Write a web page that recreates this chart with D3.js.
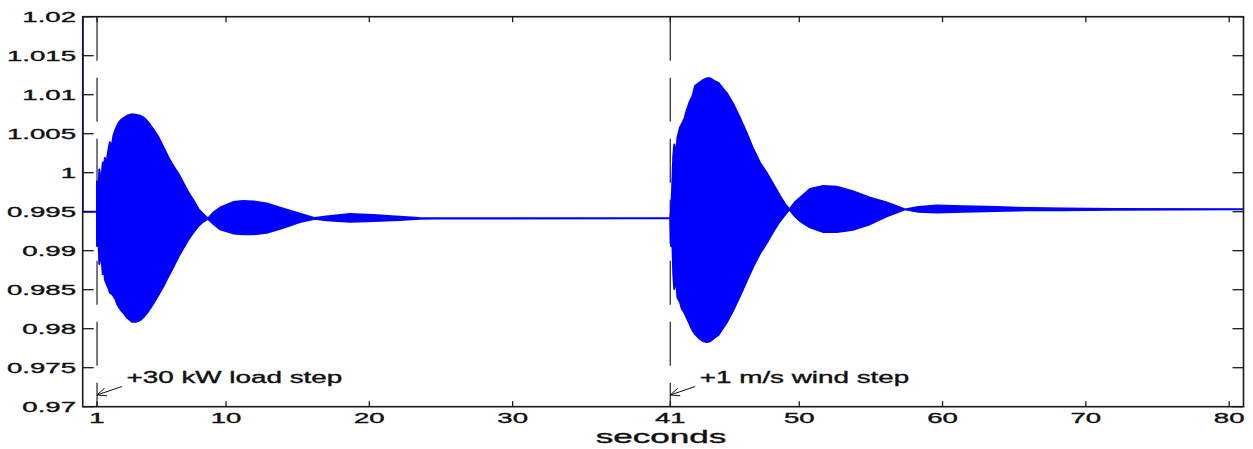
<!DOCTYPE html>
<html>
<head>
<meta charset="utf-8">
<script src="https://cdn.jsdelivr.net/npm/d3@7"></script>
<style>
  html, body { margin: 0; padding: 0; background: #fff; }
  svg { display: block; }
  text { font-family: "Liberation Sans", Arial, Helvetica, sans-serif; fill: #111; stroke: #111; stroke-width: 0.35px; }
</style>
</head>
<body>
<svg id="chart" width="1253" height="449"></svg>
<script>
// Rotor speed (pu) after a load step at t = 1 s and a wind step at t = 41 s.

// Initial settling segment, drawn as a plain line
const preTime  = [0, 0, 1];
const preValue = [1.02, 0.995, 0.995];

// Oscillation envelope after the +30 kW load step (upper / lower extremes)
const loadTime = [1.00, 1.08, 1.16, 1.28, 1.40, 1.48, 1.55, 1.65, 1.80, 1.90, 2.00, 2.15, 2.28, 2.40, 2.51, 2.70,
                  2.86, 3.10, 3.44, 3.75, 4.02, 4.30, 4.60, 4.95, 5.30, 5.65, 6.00, 6.35, 6.70, 7.05, 7.40, 7.75,
                  8.09, 8.40, 8.74, 9.10, 9.58, 10.5, 11.2, 11.9, 12.84, 14.0, 15.16, 16.2, 17.0, 18.65, 20.3,
                  22.1, 23.5, 24.5, 40.95];
const loadHigh = [0.9989, 0.9962, 1.0004, 0.9986, 1.0013, 1.0000, 1.0019, 1.0012, 1.0030, 1.0039, 1.0031, 1.0048,
                  1.0055, 1.0060, 1.0064, 1.0068, 1.0070, 1.0073, 1.0075, 1.0074, 1.0073, 1.0070, 1.0064, 1.0055,
                  1.0045, 1.0032, 1.0019, 1.0008, 0.9998, 0.9986, 0.9974, 0.9964, 0.9953, 0.9947, 0.9941, 0.99485,
                  0.99551, 0.99623, 0.99636, 0.99632, 0.99606, 0.99539, 0.99474, 0.99418, 0.9944, 0.99470,
                  0.99457, 0.99436, 0.99420, 0.99416, 0.99415];
const loadLow  = [0.9906, 0.9928, 0.9883, 0.9900, 0.9870, 0.9880, 0.9863, 0.9858, 0.9852, 0.9846, 0.9845, 0.9842,
                  0.9838, 0.9832, 0.9828, 0.9823, 0.9820, 0.9814, 0.9809, 0.9809, 0.9811, 0.9816, 0.9823, 0.9833,
                  0.9844, 0.9855, 0.9868, 0.9880, 0.9893, 0.9904, 0.9915, 0.9924, 0.9932, 0.9937, 0.9941, 0.99345,
                  0.99274, 0.99222, 0.99210, 0.99210, 0.99231, 0.99295, 0.99367, 0.99410, 0.99390, 0.99372,
                  0.99380, 0.99393, 0.99410, 0.99414, 0.99415];

// Oscillation envelope after the +1 m/s wind step
const windTime = [41.00, 41.05, 41.12, 41.21, 41.28, 41.40, 41.50, 41.68, 41.80, 42.00, 42.15, 42.38, 42.55, 42.73,
                  43.00, 43.31, 43.55, 43.78, 44.13, 44.36, 44.94, 45.40, 45.87, 46.35, 46.80, 47.25, 47.73, 48.20,
                  48.66, 49.00, 49.31, 49.70, 50.06, 50.75, 51.68, 52.62, 53.78, 54.94, 56.10, 56.80, 57.38, 58.30,
                  59.60, 61.45, 63.78, 66.10, 68.50, 72.00, 81.00];
const windHigh = [0.9942, 0.9950, 0.9975, 1.0021, 1.0036, 1.0022, 1.0045, 1.0058, 1.0062, 1.0070, 1.0080, 1.0092,
                  1.0098, 1.0111, 1.0115, 1.0119, 1.0121, 1.0121, 1.0117, 1.0115, 1.0102, 1.0088, 1.0070, 1.0050,
                  1.0030, 1.0013, 1.0000, 0.9985, 0.9970, 0.9960, 0.9953, 0.9962, 0.9968, 0.9979, 0.9983, 0.9982,
                  0.9976, 0.9968, 0.9962, 0.9957, 0.9953, 0.9956, 0.9958, 0.9957, 0.9956, 0.99546, 0.9954,
                  0.99535, 0.9953];
const windLow  = [0.9942, 0.9906, 0.9930, 0.9870, 0.9851, 0.9865, 0.9840, 0.9834, 0.9826, 0.9820, 0.9814, 0.9805,
                  0.9798, 0.9793, 0.9788, 0.9784, 0.9783, 0.9784, 0.9789, 0.9792, 0.9808, 0.9824, 0.9842, 0.9862,
                  0.9880, 0.9896, 0.9910, 0.9925, 0.9938, 0.9946, 0.9953, 0.9944, 0.9938, 0.9930, 0.9924, 0.9924,
                  0.9927, 0.9934, 0.9944, 0.9949, 0.9953, 0.9950, 0.9949, 0.9950, 0.9951, 0.99517, 0.9952,
                  0.99525, 0.9953];

// Axis ticks
const xTicks = [1, 10, 20, 30, 41, 50, 60, 70, 80];
const xTickLabels = ["1", "10", "20", "30", "41", "50", "60", "70", "80"];
const yTicks = [0.97, 0.975, 0.98, 0.985, 0.99, 0.995, 1.0, 1.005, 1.01, 1.015, 1.02];
const yTickLabels = ["0.97", "0.975", "0.98", "0.985", "0.99", "0.995", "1", "1.005", "1.01", "1.015", "1.02"];

// Disturbance markers and their notes
const eventTimes = [1, 41];
const eventLabels = ["+30 kW load step", "+1 m/s wind step"];
const eventArrowValue = [0.9715, 0.9715];

const xLabel = "seconds";

// ---------------------------------------------------------------------------
const svg = d3.select("#chart");
const plot = { left: 82.7, right: 1243.5, top: 16.7, bottom: 406.7 };

const x = d3.scaleLinear().domain([0, 81]).range([plot.left, plot.right]);
const y = d3.scaleLinear().domain([0.97, 1.02]).range([plot.bottom, plot.top]);

const axisColor = "#1a1a1a";
const blue = "#0000ff";

svg.append("defs").append("clipPath").attr("id", "plotClip")
  .append("rect")
  .attr("x", plot.left).attr("y", plot.top - 1)
  .attr("width", plot.right - plot.left).attr("height", plot.bottom - plot.top + 2);

// Text drawn with a horizontal stretch, like the figure export it reproduces
function stretchedText(g, str, px, py, size, sx, anchor) {
  return g.append("text")
    .attr("transform", `translate(${px},${py}) scale(${sx},1)`)
    .attr("text-anchor", anchor)
    .style("font-size", size + "px")
    .text(str);
}

// Dashed markers at each disturbance
const markers = svg.append("g");
eventTimes.forEach(t => {
  markers.append("line")
    .attr("x1", x(t)).attr("x2", x(t))
    .attr("y1", y(1.02)).attr("y2", y(0.97))
    .attr("stroke", "#222").attr("stroke-width", 1.2)
    .attr("stroke-dasharray", "44,17");
});

// Signal
const series = svg.append("g").attr("clip-path", "url(#plotClip)");

const preData = preTime.map((t, i) => ({ t, v: preValue[i] }));
series.append("path")
  .datum(preData)
  .attr("fill", "none")
  .attr("stroke", blue)
  .attr("stroke-width", 2)
  .attr("d", d3.line().x(d => x(d.t)).y(d => y(d.v)));

const envelope = d3.area()
  .x(d => x(d.t))
  .y0(d => y(d.lo))
  .y1(d => y(d.hi));

[[loadTime, loadHigh, loadLow], [windTime, windHigh, windLow]].forEach(([T, H, L]) => {
  const data = T.map((t, i) => ({ t, hi: H[i], lo: L[i] }));
  series.append("path")
    .datum(data)
    .attr("fill", blue)
    .attr("stroke", blue)
    .attr("stroke-width", 2)
    .attr("stroke-linejoin", "round")
    .attr("d", envelope);
});

// Axes box with inward ticks on all four sides
const axes = svg.append("g");
axes.append("rect")
  .attr("x", plot.left).attr("y", plot.top)
  .attr("width", plot.right - plot.left).attr("height", plot.bottom - plot.top)
  .attr("fill", "none").attr("stroke", axisColor).attr("stroke-width", 1.6);

const yTickLen = 11, xTickLen = 5.5;
yTicks.forEach((v, i) => {
  const py = y(v);
  axes.append("line").attr("x1", plot.left).attr("x2", plot.left + yTickLen)
    .attr("y1", py).attr("y2", py).attr("stroke", axisColor).attr("stroke-width", 1.3);
  axes.append("line").attr("x1", plot.right).attr("x2", plot.right - yTickLen)
    .attr("y1", py).attr("y2", py).attr("stroke", axisColor).attr("stroke-width", 1.3);
  stretchedText(axes, yTickLabels[i], 76, py + 5.3, 14, 1.97, "end");
});
xTicks.forEach((t, i) => {
  const px = x(t);
  axes.append("line").attr("x1", px).attr("x2", px)
    .attr("y1", plot.bottom).attr("y2", plot.bottom - xTickLen).attr("stroke", axisColor).attr("stroke-width", 1.3);
  axes.append("line").attr("x1", px).attr("x2", px)
    .attr("y1", plot.top).attr("y2", plot.top + xTickLen).attr("stroke", axisColor).attr("stroke-width", 1.3);
  stretchedText(axes, xTickLabels[i], px, 422.5, 14, 1.97, "middle");
});

stretchedText(axes, xLabel, 661, 443, 18, 1.95, "middle");

// Notes with arrows pointing at the dashed markers
const notes = svg.append("g");
eventTimes.forEach((t, i) => {
  const tipX = x(t), tipY = y(eventArrowValue[i]);
  const tailX = tipX + 25, tailY = tipY - 8.5;
  notes.append("line")
    .attr("x1", tailX).attr("y1", tailY).attr("x2", tipX).attr("y2", tipY)
    .attr("stroke", "#111").attr("stroke-width", 1);
  const ang = Math.atan2(tailY - tipY, tailX - tipX);
  [-0.4, 0.4].forEach(da => {
    notes.append("line")
      .attr("x1", tipX).attr("y1", tipY)
      .attr("x2", tipX + 10 * Math.cos(ang + da))
      .attr("y2", tipY + 10 * Math.sin(ang + da))
      .attr("stroke", "#111").attr("stroke-width", 1);
  });
  stretchedText(notes, eventLabels[i], tipX + 29.5, tipY - 12.5, 16, 1.74, "start");
});
</script>
</body>
</html>
